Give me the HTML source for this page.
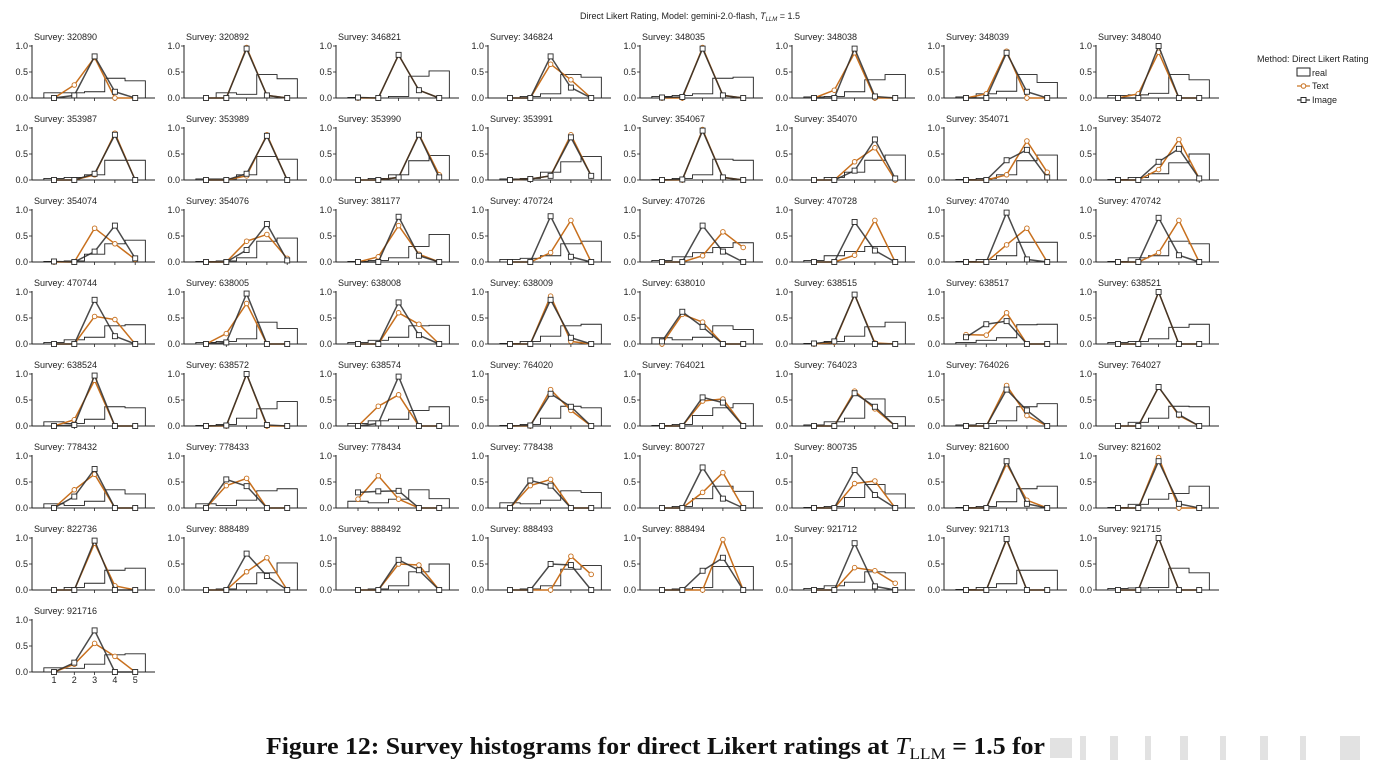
<!DOCTYPE html>
<html><head><meta charset="utf-8">
<style>
body{margin:0;background:#fff;width:1393px;height:772px;overflow:hidden;font-family:"Liberation Sans",sans-serif}
svg text{font-family:"Liberation Sans",sans-serif}
</style></head>
<body>
<svg id="chart" width="1393" height="772" viewBox="0 0 1393 772" xmlns="http://www.w3.org/2000/svg">
<text x="690" y="19" font-size="9" text-anchor="middle" fill="#222">Direct Likert Rating, Model: gemini-2.0-flash, <tspan font-style="italic">T</tspan><tspan font-style="italic" font-size="6" dy="2">LLM</tspan><tspan dy="-2"> = 1.5</tspan></text>
<g>
<text x="1257" y="62" font-size="9" fill="#222">Method: Direct Likert Rating</text>
<rect x="1297" y="68" width="13" height="8" fill="#fff" stroke="#222" stroke-width="1"/>
<text x="1312" y="76" font-size="9" fill="#222">real</text>
<line x1="1297" y1="86" x2="1310" y2="86" stroke="#c8701e" stroke-width="1.2"/>
<circle cx="1303.5" cy="86" r="2.3" fill="#fff" stroke="#c8701e"/>
<text x="1312" y="89" font-size="9" fill="#222">Text</text>
<line x1="1297" y1="100" x2="1310" y2="100" stroke="#2a2a2a" stroke-width="1.2"/>
<rect x="1301" y="97.5" width="5" height="5" fill="#fff" stroke="#2a2a2a"/>
<text x="1312" y="103" font-size="9" fill="#222">Image</text>
</g>
<g id="panels"></g>
<text x="266" y="754" font-size="24" font-weight="bold" fill="#111" textLength="779" lengthAdjust="spacingAndGlyphs" style="font-family:'Liberation Serif',serif">Figure 12: Survey histograms for direct Likert ratings at <tspan font-style="italic" font-weight="normal">T</tspan><tspan font-size="16" font-weight="normal" dy="5">LLM</tspan><tspan dy="-5"> = 1.5 </tspan>for</text>
<g fill="#e2e2e2">
<rect x="1050" y="738" width="22" height="20"/><rect x="1080" y="736" width="6" height="24"/><rect x="1110" y="736" width="8" height="24"/><rect x="1145" y="736" width="6" height="24"/><rect x="1180" y="736" width="8" height="24"/><rect x="1220" y="736" width="6" height="24"/><rect x="1260" y="736" width="8" height="24"/><rect x="1300" y="736" width="6" height="24"/><rect x="1340" y="736" width="20" height="24"/>
</g>
</svg>
<script>
const surveyIds=["320890","320892","346821","346824","348035","348038","348039","348040","353987","353989","353990","353991","354067","354070","354071","354072","354074","354076","381177","470724","470726","470728","470740","470742","470744","638005","638008","638009","638010","638515","638517","638521","638524","638572","638574","764020","764021","764023","764026","764027","778432","778433","778434","778438","800727","800735","821600","821602","822736","888489","888492","888493","888494","921712","921713","921715","921716"];
const realValues=[[.1,.1,.12,.38,.33],[0,.1,.07,.45,.37],[.01,0,.03,.42,.52],[0,.03,.08,.45,.4],[.03,.05,.08,.38,.4],[.02,.03,.12,.35,.45],[.02,.08,.13,.45,.3],[.05,.06,.09,.45,.35],
[.03,.05,.1,.38,.38],[.02,.02,.1,.45,.4],[0,.03,.1,.37,.47],[.02,.03,.15,.35,.45],[.01,.03,.1,.4,.38],[0,.05,.15,.38,.48],[.01,.03,.1,.37,.48],[.01,.05,.12,.33,.5],
[.01,.02,.15,.35,.42],[.01,.02,.08,.4,.46],[.01,.03,.08,.3,.53],[.05,.07,.12,.35,.4],[.03,.1,.18,.28,.37],[.03,.12,.2,.3,.3],[.01,.05,.12,.38,.38],[.01,.08,.12,.4,.35],
[.03,.08,.13,.35,.37],[.03,.05,.1,.42,.3],[.03,.07,.13,.35,.36],[.01,.05,.15,.35,.38],[.12,.08,.13,.35,.28],[.01,.05,.15,.33,.42],[.03,.07,.12,.37,.38],[.03,.05,.1,.32,.38],
[.08,.05,.13,.37,.35],[.01,.03,.15,.33,.47],[.05,.1,.13,.3,.37],[.01,.03,.15,.38,.35],[.01,.03,.2,.35,.43],[.02,.08,.15,.52,.18],[.02,.05,.1,.37,.43],[0,.07,.15,.38,.37],
[.08,.05,.13,.35,.27],[.08,.05,.15,.33,.37],[.13,.1,.17,.35,.18],[.1,.08,.15,.33,.3],[0,.03,.18,.42,.32],[.01,.03,.2,.45,.27],[.01,.03,.12,.37,.42],[.01,.07,.17,.28,.42],
[0,.05,.13,.38,.42],[0,.02,.12,.33,.52],[0,.02,.08,.35,.5],[0,.02,.08,.4,.47],[0,.02,.05,.45,.45],[.03,.08,.15,.35,.33],[.01,.05,.12,.38,.38],[.03,.04,.05,.42,.33],
[.08,.07,.15,.33,.35]];
const textValues=[[0,.25,.78,0,0],[0,0,.97,.05,0],[0,0,.83,.15,0],[0,0,.65,.35,0],[0,0,.97,.05,0],[0,.15,.87,0,0],[0,.08,.9,0,0],[0,.08,.88,0,0],
[0,0,.1,.9,0],[0,0,.08,.87,0],[0,0,.05,.88,.1],[0,.02,.08,.87,.08],[0,0,.97,.05,0],[0,0,.35,.62,0],[0,0,.1,.75,.15],[0,0,.2,.78,.03],
[0,0,.65,.35,.05],[0,0,.4,.53,.07],[0,.1,.7,.15,0],[0,0,.18,.8,0],[0,0,.12,.58,.28],[0,0,.13,.8,0],[0,0,.33,.65,0],[0,0,.18,.8,0],
[0,0,.53,.47,0],[0,.2,.78,0,0],[0,0,.6,.38,0],[0,0,.92,.05,0],[0,.57,.42,0,0],[0,.03,.95,.02,0],[.18,.17,.6,0,0],[0,0,1,0,0],
[0,.12,.88,0,0],[0,0,1,0,0],[0,.38,.6,0,0],[0,0,.7,.3,0],[0,0,.48,.52,0],[0,0,.67,.33,0],[0,0,.78,.2,0],[0,0,.75,.2,0],
[0,.35,.65,0,0],[0,.43,.57,0,0],[.17,.62,.17,0,0],[0,.43,.55,0,0],[0,0,.3,.68,0],[0,0,.47,.52,0],[0,0,.85,.15,0],[0,0,.97,0,0],
[0,0,.9,.08,0],[0,0,.35,.62,0],[0,0,.5,.48,0],[0,0,0,.65,.3],[0,0,0,.97,0],[0,0,.43,.37,.13],[0,0,.97,0,0],[0,0,1,0,0],
[0,.15,.55,.3,0]];
const imageValues=[[0,.05,.8,.12,0],[0,0,.95,.05,0],[.01,0,.83,.15,0],[0,0,.8,.2,0],[.01,.02,.95,.05,0],[0,0,.95,.03,0],[0,0,.87,.12,0],[0,0,1,0,0],
[0,0,.12,.87,0],[0,0,.12,.85,0],[0,0,.05,.87,.05],[0,.02,.08,.82,.08],[0,.01,.95,.05,0],[0,0,.18,.78,.03],[0,0,.38,.58,.05],[0,0,.35,.6,.03],
[.01,0,.2,.7,.07],[0,0,.23,.73,.03],[0,0,.87,.12,0],[0,0,.88,.1,0],[0,0,.7,.2,0],[0,0,.77,.22,0],[0,0,.95,.05,0],[0,0,.85,.13,0],
[0,0,.85,.15,0],[0,.03,.97,0,0],[0,0,.8,.17,0],[0,0,.85,.12,0],[.05,.62,.33,0,0],[.01,.05,.95,0,0],[.13,.38,.44,0,0],[0,0,1,0,0],
[0,.02,.97,0,0],[0,.01,1,.02,0],[0,.05,.95,0,0],[0,.01,.62,.37,0],[0,0,.55,.45,0],[0,0,.63,.37,0],[0,0,.7,.3,0],[0,0,.75,.22,0],
[0,.22,.75,0,0],[0,.55,.42,0,0],[.3,.32,.33,0,0],[0,.53,.43,0,0],[0,0,.78,.18,0],[0,0,.73,.25,0],[0,0,.9,.08,0],[0,0,.9,.08,0],
[0,0,.95,0,0],[0,0,.7,.27,0],[0,0,.58,.38,0],[0,0,.5,.48,0],[0,0,.37,.62,0],[0,0,.9,.07,0],[0,0,.98,0,0],[0,0,1,0,0],
[0,.18,.8,0,0]];
const yTickLabels=["0.0","0.5","1.0"];
const yTickValues=[0,0.5,1];
const xTickLabels=["1","2","3","4","5"];

const NS="http://www.w3.org/2000/svg";
const root=document.getElementById('panels');
function mk(tag,attrs,parent){const e=document.createElementNS(NS,tag);for(const k in attrs)e.setAttribute(k,attrs[k]);parent.appendChild(e);return e;}
surveyIds.forEach((id,p)=>{
  const col=p%8,row=Math.floor(p/8);
  const x0=32+152*col, yb=98+82*row, yt=46+82*row;
  const X=v=>x0+22+(v-1)*20.3;
  const Y=v=>yb-(yb-yt)*v;
  const g=mk('g',{},root);
  
  
  const t=mk('text',{x:x0+2,y:40+82*row,'font-size':9,fill:'#222'},g);
  t.textContent='Survey: '+id;
  const r=realValues[p];
  let d='M'+X(0.5)+','+Y(0);
  r.forEach((v,i)=>{d+=' L'+X(i+0.5)+','+Y(v)+' L'+X(i+1.5)+','+Y(v);});
  d+=' L'+X(5.5)+','+Y(0);
  const h=mk('path',{d:d,fill:'none',stroke:'#222','stroke-width':0.9},g);
  
  
  mk('line',{x1:x0,y1:yt-1,x2:x0,y2:yb,stroke:'#222','stroke-width':1},g);
  mk('line',{x1:x0,y1:yb,x2:x0+123,y2:yb,stroke:'#222','stroke-width':1},g);
  yTickValues.forEach((v,i)=>{
    mk('line',{x1:x0-3,y1:Y(v),x2:x0,y2:Y(v),stroke:'#222','stroke-width':0.8},g);
    const tl=mk('text',{x:x0-4,y:Y(v)+3,'font-size':9,fill:'#222','text-anchor':'end'},g);
    tl.textContent=yTickLabels[i];
  });
  xTickLabels.forEach((l,i)=>{
    mk('line',{x1:X(i+1),y1:yb,x2:X(i+1),y2:yb+3,stroke:'#222','stroke-width':0.8},g);
    if(p===surveyIds.length-1){const xl=mk('text',{x:X(i+1),y:yb+11,'font-size':9,fill:'#222','text-anchor':'middle'},g);xl.textContent=l;}
  });
  [[textValues[p],'#c8701e','text-line'],[imageValues[p],'#2a2a2a','image-line']].forEach(([vals,c,nm],si)=>{
    const pl=mk('polyline',{points:vals.map((v,i)=>X(i+1)+','+Y(v)).join(' '),fill:'none',stroke:c,'stroke-width':1.5,'stroke-opacity':si?0.85:1},g);
    
    
    vals.forEach((v,i)=>{
      if(si===0){const m=mk('circle',{cx:X(i+1),cy:Y(v),r:2.3,fill:'#fff',stroke:c,'stroke-width':0.9},g);
        
        }
      else{const m=mk('rect',{x:X(i+1)-2.5,y:Y(v)-2.5,width:5,height:5,fill:'#fff',stroke:c,'stroke-width':0.9},g);
        
        }
    });
  });
});
</script>
</body></html>
